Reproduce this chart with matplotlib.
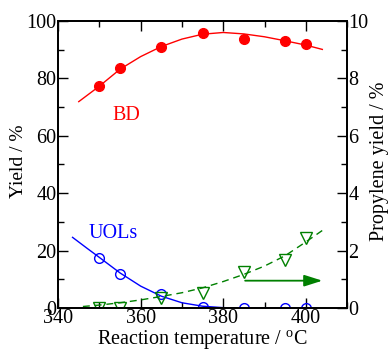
import matplotlib
matplotlib.use('Agg')
import matplotlib.pyplot as plt
from matplotlib.ticker import MultipleLocator

plt.rcParams['font.family'] = 'Liberation Serif'
plt.rcParams['mathtext.fontset'] = 'custom'
plt.rcParams['mathtext.rm'] = 'Liberation Serif'

# measured points
temp = [350, 355, 365, 375, 385, 395, 400]
bd = [77.2, 83.6, 91.0, 95.9, 93.9, 93.2, 92.0]
uols = [17.3, 11.7, 4.9, 0.2, 0.0, 0.0, 0.0]
propylene = [0.0, 0.0, 0.35, 0.52, 1.24, 1.67, 2.43]

# trend curves
bd_fit_t = [345, 350, 355, 360, 365, 370, 375, 380, 385, 390, 395, 400, 404]
bd_fit = [71.9, 77.3, 83.2, 87.6, 91.1, 93.7, 95.4, 96.0, 95.5, 94.5, 93.1, 91.6, 90.1]
uol_fit_t = [343.5, 347, 350, 355, 360, 365, 370, 375, 380, 385, 390, 395, 400]
uol_fit = [24.6, 20.8, 17.6, 12.2, 7.6, 4.1, 1.8, 0.6, 0.1, 0.0, 0.0, 0.0, 0.0]
pro_fit_t = [346, 350, 355, 360, 365, 370, 375, 380, 385, 390, 395, 400, 404]
pro_fit = [0.05, 0.10, 0.18, 0.28, 0.40, 0.53, 0.70, 0.92, 1.17, 1.46, 1.82, 2.30, 2.70]

fig = plt.figure(figsize=(3.9, 3.56), dpi=100)
ax = fig.add_axes([0.149, 0.135, 0.741, 0.806])
ax2 = ax.twinx()

ax.plot(bd_fit_t, bd_fit, color='red', lw=1.0)
ax.plot(temp, bd, 'o', color='red', ms=7)
ax.plot(uol_fit_t, uol_fit, color='blue', lw=1.0)
ax.plot(temp, uols, 'o', mfc='none', mec='blue', mew=1.0, ms=7)

ax2.plot(pro_fit_t, pro_fit, '--', color='green', lw=1.0, dashes=(5, 3.5))
ax2.plot(temp, propylene, 'v', mfc='none', mec='green', mew=1.0, ms=8)
ax2.annotate('', xy=(404, 0.95), xytext=(385.3, 0.95),
             arrowprops=dict(arrowstyle='-|>,head_length=1.1,head_width=0.35',
                             color='green', lw=1.3, shrinkA=0, shrinkB=0))

ax.text(356.6, 67.2, 'BD', color='red', fontsize=14.5, ha='center', va='center')
ax.text(353.3, 25.8, 'UOLs', color='blue', fontsize=14.5, ha='center', va='center')

ax.set_xlim(340, 410)
ax.set_ylim(0, 100)
ax2.set_ylim(0, 10)
ax.xaxis.set_major_locator(MultipleLocator(20))
ax.xaxis.set_minor_locator(MultipleLocator(10))
ax.yaxis.set_major_locator(MultipleLocator(20))
ax.yaxis.set_minor_locator(MultipleLocator(10))
ax2.yaxis.set_major_locator(MultipleLocator(2))
ax2.yaxis.set_minor_locator(MultipleLocator(1))

ax.tick_params(which='both', direction='in', top=True, right=False, labelsize=14.5, width=1.0)
ax.tick_params(which='major', length=7, pad=1)
ax.tick_params(which='minor', length=4)
ax2.tick_params(which='both', direction='in', labelsize=14.5, width=1.0)
ax2.tick_params(which='major', length=7, pad=1)
ax2.tick_params(which='minor', length=4)
for a in (ax, ax2):
    for s in a.spines.values():
        s.set_linewidth(1.3)

ax.set_xlabel(r'Reaction temperature / $^{\mathrm{o}}$C', fontsize=14.5, labelpad=0)
ax.set_ylabel('Yield / %', fontsize=14, va='center')
ax.yaxis.set_label_coords(-0.138, 0.51)
ax2.set_ylabel('Propylene yield / %', fontsize=14.5, va='center')
ax2.yaxis.set_label_coords(1.112, 0.51)

fig.savefig('out.png', dpi=100)
